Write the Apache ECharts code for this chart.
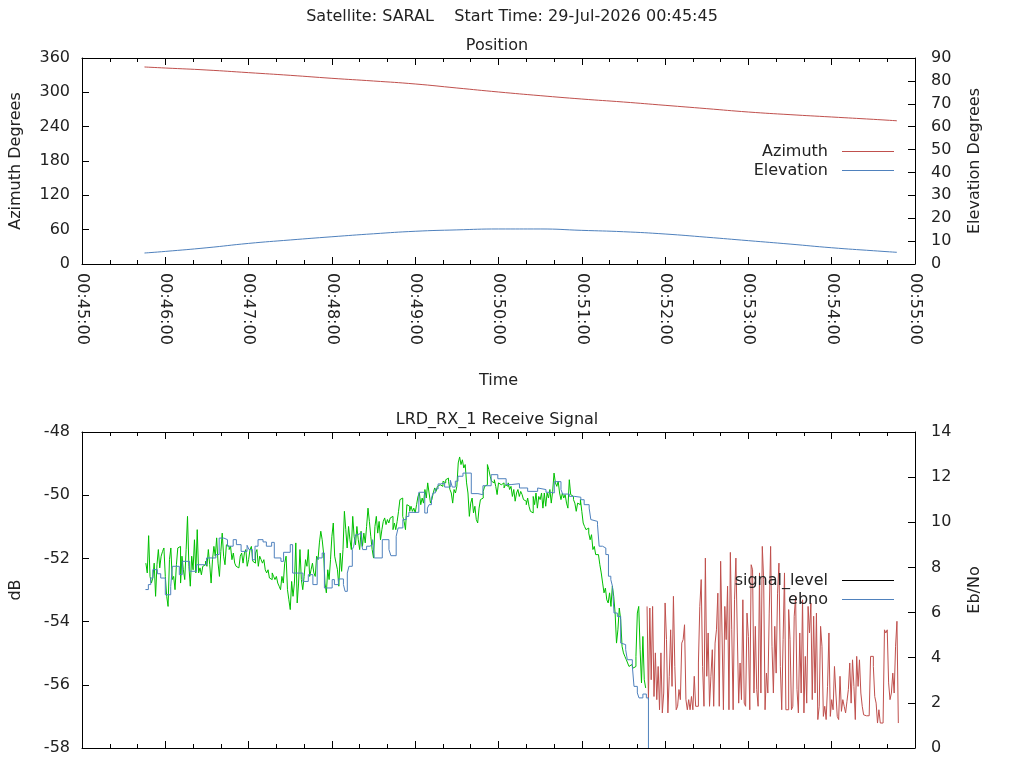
<!DOCTYPE html>
<html>
<head>
<meta charset="utf-8">
<title>SARAL pass</title>
<script src="https://cdn.jsdelivr.net/npm/echarts@6/dist/echarts.min.js"></script>
<style>
html,body{margin:0;padding:0;background:#fff;}
#main{width:1024px;height:768px;}
</style>
</head>
<body>
<div id="main"></div>
<script>
// all times are seconds after 00:45:00
var posTime   = [45, 60, 90, 120, 150, 180, 210, 240, 270, 300, 330, 360, 390, 420, 450, 480, 510, 540, 570, 587];
var azimuth   = [344.3, 342.5, 339.0, 334.4, 329.7, 324.5, 319.8, 314.6, 307.6, 300.6, 294.2, 288.3, 283.1, 277.3, 271.5, 265.6, 261.0, 256.9, 252.8, 250.3];
var elevation = [4.8, 5.5, 7.1, 9.0, 10.5, 11.9, 13.2, 14.3, 14.9, 15.3, 15.3, 14.7, 14.1, 13.1, 11.7, 10.2, 8.7, 7.1, 5.8, 5.1];

// signal level (dB), one sample per second, while locked
var lockedStart = 46;
var sigLocked = [
  -52.15,-52.46,-51.28,-52.57,-52.78,-52.62,-52.15,-53.20,-52.20,-51.72,
  -52.30,-51.93,-51.78,-51.67,-52.57,-53.20,-53.52,-52.04,-51.67,-52.67,
  -52.57,-52.99,-52.20,-51.67,-51.62,-52.78,-51.93,-52.36,-52.67,-51.72,
  -50.67,-52.25,-52.88,-51.93,-52.36,-51.41,-52.46,-51.09,-52.46,-52.30,
  -52.52,-52.25,-52.20,-52.09,-52.25,-51.72,-52.20,-52.78,-52.04,-51.62,
  -51.93,-51.35,-52.15,-52.57,-51.78,-51.20,-51.93,-52.20,-51.57,-51.62,
  -51.72,-51.62,-52.04,-51.83,-52.15,-52.25,-52.30,-52.36,-51.93,-51.83,
  -52.15,-51.83,-51.72,-52.25,-52.04,-51.72,-51.62,-52.09,-52.15,-51.83,
  -51.72,-52.25,-51.93,-52.04,-52.15,-52.04,-52.36,-52.46,-52.36,-52.62,
  -52.67,-52.46,-52.57,-52.67,-52.57,-52.78,-52.88,-52.99,-52.57,-52.78,
  -52.15,-51.93,-52.99,-53.31,-53.62,-52.73,-53.20,-52.78,-51.51,-53.41,
  -52.78,-51.72,-52.67,-52.99,-52.57,-52.04,-52.25,-51.72,-52.57,-52.36,
  -52.15,-52.46,-52.57,-51.93,-52.04,-51.51,-51.14,-51.41,-51.83,-52.78,
  -53.09,-52.36,-52.67,-52.04,-51.30,-50.88,-51.93,-52.15,
  -52.36,-52.88,-51.83,-52.41,-51.72,-50.51,-51.09,-51.67,-50.99,-51.41,
  -51.72,-50.67,-51.30,-51.57,-50.99,-51.41,-51.72,-51.14,-51.62,-51.20,
  -51.51,-50.99,-50.41,-50.83,-51.30,-51.72,-51.99,-50.99,-50.67,-51.20,
  -50.83,-51.41,-51.09,-50.83,-50.72,-50.93,-50.77,-50.88,-50.72,-50.67,
  -51.09,-50.88,-51.09,-50.83,-50.51,-50.14,-50.09,-50.67,-50.83,-51.09,
  -50.30,-50.35,-50.51,-50.35,-50.51,-50.41,-50.56,-50.30,-50.04,-49.93,
  -50.30,-50.09,-50.25,-49.82,-50.09,-49.61,-49.93,-50.25,-50.14,-49.93,
  -49.77,-49.88,-49.72,-49.67,-49.61,-49.72,-49.56,-49.61,-49.51,-49.46,
  -49.56,-49.82,-49.93,-50.25,-49.82,-49.93,-49.72,-48.98,-48.79,-49.03,
  -48.88,-49.14,-49.03,-49.61,-49.93,-50.67,-50.25,-50.09,-50.56,-50.35,
  -50.77,-50.88,-50.41,-50.14,-50.09,-49.88,-49.72,-49.67,-49.03,-49.19,
  -49.40,-49.56,-49.61,-49.51,-49.72,-49.98,-49.61,-49.67,-49.72,-49.61,
  -49.77,-49.67,-49.72,-49.61,-49.82,-49.72,-50.04,-49.82,-50.19,-49.93,
  -49.82,-50.04,-49.88,-49.98,-50.14,-50.19,-50.30,-50.09,-50.35,-50.51,
  -50.56,-50.04,-50.30,-49.93,-50.41,-50.04,-50.14,-49.93,-50.41,-49.93,
  -50.35,-49.93,-50.09,-49.82,-50.25,-49.88,-49.30,-49.61,-49.72,-49.56,
  -49.93,-50.14,-49.93,-50.09,-49.98,-50.25,-50.41,-49.51,-49.98,-50.04,
  -50.14,-50.25,-50.51,-50.25,-50.30,-50.14,-50.51,-50.88,-50.99,-51.09,
  -51.04,-51.20,-51.41,-51.25,-51.72,-51.62,-51.88,-51.88,-51.93,-52.20,
  -52.46,-52.78,-53.09,-52.94,-53.31,-53.41,-53.09,-53.52,-52.88,-53.20,
  -53.73,-54.68,-54.26,-53.57,-53.94,-54.78,-54.99,-55.10,-55.20,-55.31,
  -55.42,-55.36,-55.42,-55.47,-55.42,-55.10,-53.73,-53.52,-54.89,-55.94,
  -54.47,-55.84,-56.10
];

// signal level (dB), one sample per second, after lock was lost
var unlockedStart = 407;
var sigUnlocked = [
  -53.52,-56.47,-53.57,-55.84,-53.52,-56.37,-54.99,-56.47,-55.42,-56.79,
  -54.99,-56.89,-56.26,-53.41,-54.57,-56.89,-55.73,-54.26,-56.05,-53.20,
  -55.42,-56.79,-56.68,-56.15,-56.47,-54.68,-54.57,-54.10,-56.47,-56.79,
  -56.47,-56.79,-56.37,-56.79,-55.73,-56.68,-56.68,-55.31,-53.52,-52.67,
  -55.42,-56.68,-51.99,-55.73,-54.36,-56.68,-55.73,-54.89,-56.68,-54.68,
  -54.26,-53.10,-56.68,-52.09,-54.36,-56.79,-53.52,-54.57,-52.88,-56.79,
  -51.81,-54.26,-56.79,-53.31,-51.99,-54.36,-56.58,-55.31,-56.47,-53.31,
  -56.58,-56.68,-53.73,-54.47,-56.79,-52.20,-52.36,-56.26,-54.15,-56.15,
  -56.68,-52.46,-56.26,-51.62,-52.67,-56.79,-55.63,-56.26,-53.73,-51.62,
  -54.78,-56.26,-54.15,-55.63,-53.10,-52.15,-55.42,-56.79,-54.57,-52.46,
  -56.79,-56.79,-53.62,-54.57,-56.79,-56.68,-53.83,-53.20,-56.15,-56.89,
  -54.36,-56.26,-53.31,-56.89,-55.10,-56.58,-53.52,-54.36,-53.41,-56.47,
  -53.83,-56.26,-53.73,-57.10,-56.68,-54.15,-54.78,-57.00,-56.68,-57.10,
  -56.05,-54.36,-57.00,-56.47,-56.79,-55.42,-56.26,-57.00,-57.10,-55.73,
  -56.84,-56.47,-56.68,-56.89,-56.52,-56.15,-55.31,-56.58,-55.21,-56.05,
  -57.10,-55.10,-56.05,-55.21,-56.26,-56.68,-56.95,-56.98,-56.98,-56.98,
  -56.98,-55.10,-55.10,-55.42,-56.37,-56.58,-57.21,-56.79,-57.21,-57.21,
  -57.21,-54.26,-54.36,-54.26,-55.94,-56.47,-56.26,-55.63,-56.26,-54.78,
  -53.99,-57.21
];

// Eb/No, held value starting at each time
var ebnoTime = [45.7,47.8,49.5,51.0,54.3,56.7,60.0,63.9,65.1,70.1,72.2,77.5,82.5,89.7,96.4,98.8,102.2,104.8,108.9,111.2,
  114.6,118.9,120.3,122.7,124.6,126.8,130.4,132.8,136.6,138.5,143.3,145.2,150.0,151.7,159.1,163.0,166.3,169.4,173.0,174.6,
  180.2,181.8,184.7,188.3,189.5,191.1,192.3,194.7,195.7,197.1,198.6,201.4,202.2,205.0,207.4,209.3,210.5,216.3,221.1,222.5,
  226.3,227.7,231.1,233.5,235.4,242.6,246.9,248.8,250.0,251.7,252.9,254.5,256.5,258.4,261.2,265.3,266.7,268.9,270.8,274.4,
  280.4,285.2,288.8,294.7,299.5,305.5,309.1,315.1,321.0,328.2,329.4,334.2,337.8,340.2,345.0,346.2,351.0,354.5,359.3,361.7,
  365.3,366.5,367.7,371.3,372.5,374.9,377.3,379.2,380.9,382.1,383.2,385.6,388.0,389.2,391.6,392.8,396.4,397.6,400.0,401.2,
  404.0,406.5,408.0];
var ebnoValue = [7.02,7.24,7.53,7.90,7.72,7.53,6.79,7.16,8.05,7.68,8.27,7.83,8.12,8.42,8.57,9.30,9.23,8.94,9.23,9.01,
  8.71,8.98,8.79,8.34,8.94,9.23,9.13,8.94,9.11,8.42,8.27,8.67,9.01,7.75,7.38,7.68,7.24,8.42,8.64,7.09,
  7.46,7.24,7.49,7.24,6.94,7.75,8.05,8.79,8.94,9.45,9.53,9.01,8.79,8.94,9.01,9.23,8.42,9.23,8.79,8.52,
  9.38,9.75,10.12,10.26,10.44,11.33,10.41,10.63,10.78,11.08,11.30,11.48,11.70,11.74,11.56,11.86,11.56,11.82,12.04,12.18,
  11.27,11.22,11.62,12.11,11.93,11.67,11.71,11.52,11.37,11.52,11.45,11.33,11.30,11.80,11.45,11.25,11.15,11.11,11.00,10.78,
  10.63,10.12,10.04,9.89,8.94,8.86,8.57,7.61,7.46,7.16,5.98,5.83,4.65,4.58,4.36,3.91,3.62,2.73,2.44,2.22,
  2.39,2.22,0];

var FONT = 'DejaVu Sans';
var INK = '#000';
var TEXT = '#222';
var RED = '#c0504d', BLUE = '#4f81bd', GREEN = '#00c000';

function zip(xs, ys) {
  return xs.map(function (x, i) { return [x, ys[i]]; });
}
function perSecond(start, vals) {
  return vals.map(function (v, i) { return [start + i, v]; });
}
function pad(n) { return (n < 10 ? '0' : '') + n; }
function clock(v) {
  var s = 45 * 60 + Math.round(v);
  return '00:' + pad(Math.floor(s / 60)) + ':' + pad(s % 60);
}

var txt = { fontFamily: FONT, fontSize: 16, color: TEXT, fontWeight: 'normal' };

function timeAxis(grid, pos, labels) {
  return {
    gridIndex: grid, type: 'value', position: pos, min: 0, max: 600, interval: 60,
    axisLine: { show: true, onZero: false, lineStyle: { color: INK, width: 1 } },
    axisTick: { show: true, inside: true, length: 7, lineStyle: { color: INK } },
    minorTick: { show: true, splitNumber: 3, length: 4, lineStyle: { color: INK } },
    splitLine: { show: false },
    axisLabel: labels ? {
      show: true, rotate: -90, margin: 9, fontFamily: FONT, fontSize: 16, color: TEXT,
      formatter: clock, showMinLabel: true, showMaxLabel: true
    } : { show: false },
    name: (labels ? 'Time' : ''), nameLocation: 'middle', nameGap: 109,
    nameTextStyle: txt
  };
}
function valAxis(grid, pos, min, max, step, name, gap, margin) {
  return {
    gridIndex: grid, type: 'value', position: pos, min: min, max: max, interval: step,
    axisLine: { show: true, onZero: false, lineStyle: { color: INK, width: 1 } },
    axisTick: { show: true, inside: true, length: 7, lineStyle: { color: INK } },
    splitLine: { show: false },
    axisLabel: { margin: margin, fontFamily: FONT, fontSize: 16, color: TEXT },
    name: name, nameLocation: 'middle', nameRotate: 90, nameGap: gap,
    nameTextStyle: txt
  };
}
function legendBox(names, top) {
  return {
    data: names, orient: 'vertical', align: 'right', icon: 'rect',
    right: 130, top: top, padding: 0, itemGap: 3, itemWidth: 52, itemHeight: 1,
    textStyle: { fontFamily: FONT, fontSize: 16, color: TEXT, padding: [0, 9, 0, 0] }
  };
}

var myChart = echarts.init(document.getElementById('main'));

var option = {
  animation: false,
  backgroundColor: '#fff',
  title: [
    { text: 'Satellite: SARAL    Start Time: 29-Jul-2026 00:45:45', left: 'center', top: 9, padding: 0, textStyle: txt },
    { text: 'Position', left: 497, textAlign: 'center', top: 38, padding: 0, textStyle: txt },
    { text: 'LRD_RX_1 Receive Signal', left: 497, textAlign: 'center', top: 412, padding: 0, textStyle: txt }
  ],
  grid: [
    { left: 79, top: 58, width: 836, height: 206 },
    { left: 79, top: 432, width: 836, height: 316 }
  ],
  legend: [
    legendBox(['Azimuth', 'Elevation'], 143.5),
    legendBox([{ name: 'signal_level', itemStyle: { color: INK } }, 'ebno'], 572.5)
  ],
  xAxis: [
    timeAxis(0, 'bottom', true),
    timeAxis(0, 'top', false),
    timeAxis(1, 'bottom', false),
    timeAxis(1, 'top', false)
  ],
  yAxis: [
    valAxis(0, 'left', 0, 360, 60, 'Azimuth Degrees', 58, 12),
    valAxis(0, 'right', 0, 90, 10, 'Elevation Degrees', 52, 16),
    valAxis(1, 'left', -58, -48, 2, 'dB', 58, 12),
    valAxis(1, 'right', 0, 14, 2, 'Eb/No', 52, 16)
  ],
  series: [
    {
      name: 'Azimuth', type: 'line', xAxisIndex: 0, yAxisIndex: 0,
      data: zip(posTime, azimuth), symbol: 'none', smooth: true,
      itemStyle: { color: RED }, lineStyle: { color: RED, width: 1 }
    },
    {
      name: 'Elevation', type: 'line', xAxisIndex: 0, yAxisIndex: 1,
      data: zip(posTime, elevation), symbol: 'none', smooth: true,
      itemStyle: { color: BLUE }, lineStyle: { color: BLUE, width: 1 }
    },
    {
      name: 'signal_level', type: 'line', xAxisIndex: 2, yAxisIndex: 2,
      data: perSecond(lockedStart, sigLocked), symbol: 'none', step: 'end',
      itemStyle: { color: GREEN }, lineStyle: { color: GREEN, width: 1 }
    },
    {
      name: 'signal_level', type: 'line', xAxisIndex: 2, yAxisIndex: 2,
      data: perSecond(unlockedStart, sigUnlocked), symbol: 'none', step: 'end',
      itemStyle: { color: RED }, lineStyle: { color: RED, width: 1 }
    },
    {
      name: 'ebno', type: 'line', xAxisIndex: 2, yAxisIndex: 3,
      data: zip(ebnoTime, ebnoValue), symbol: 'none', step: 'end',
      itemStyle: { color: BLUE }, lineStyle: { color: BLUE, width: 1 }
    }
  ]
};

myChart.setOption(option);
</script>
</body>
</html>
